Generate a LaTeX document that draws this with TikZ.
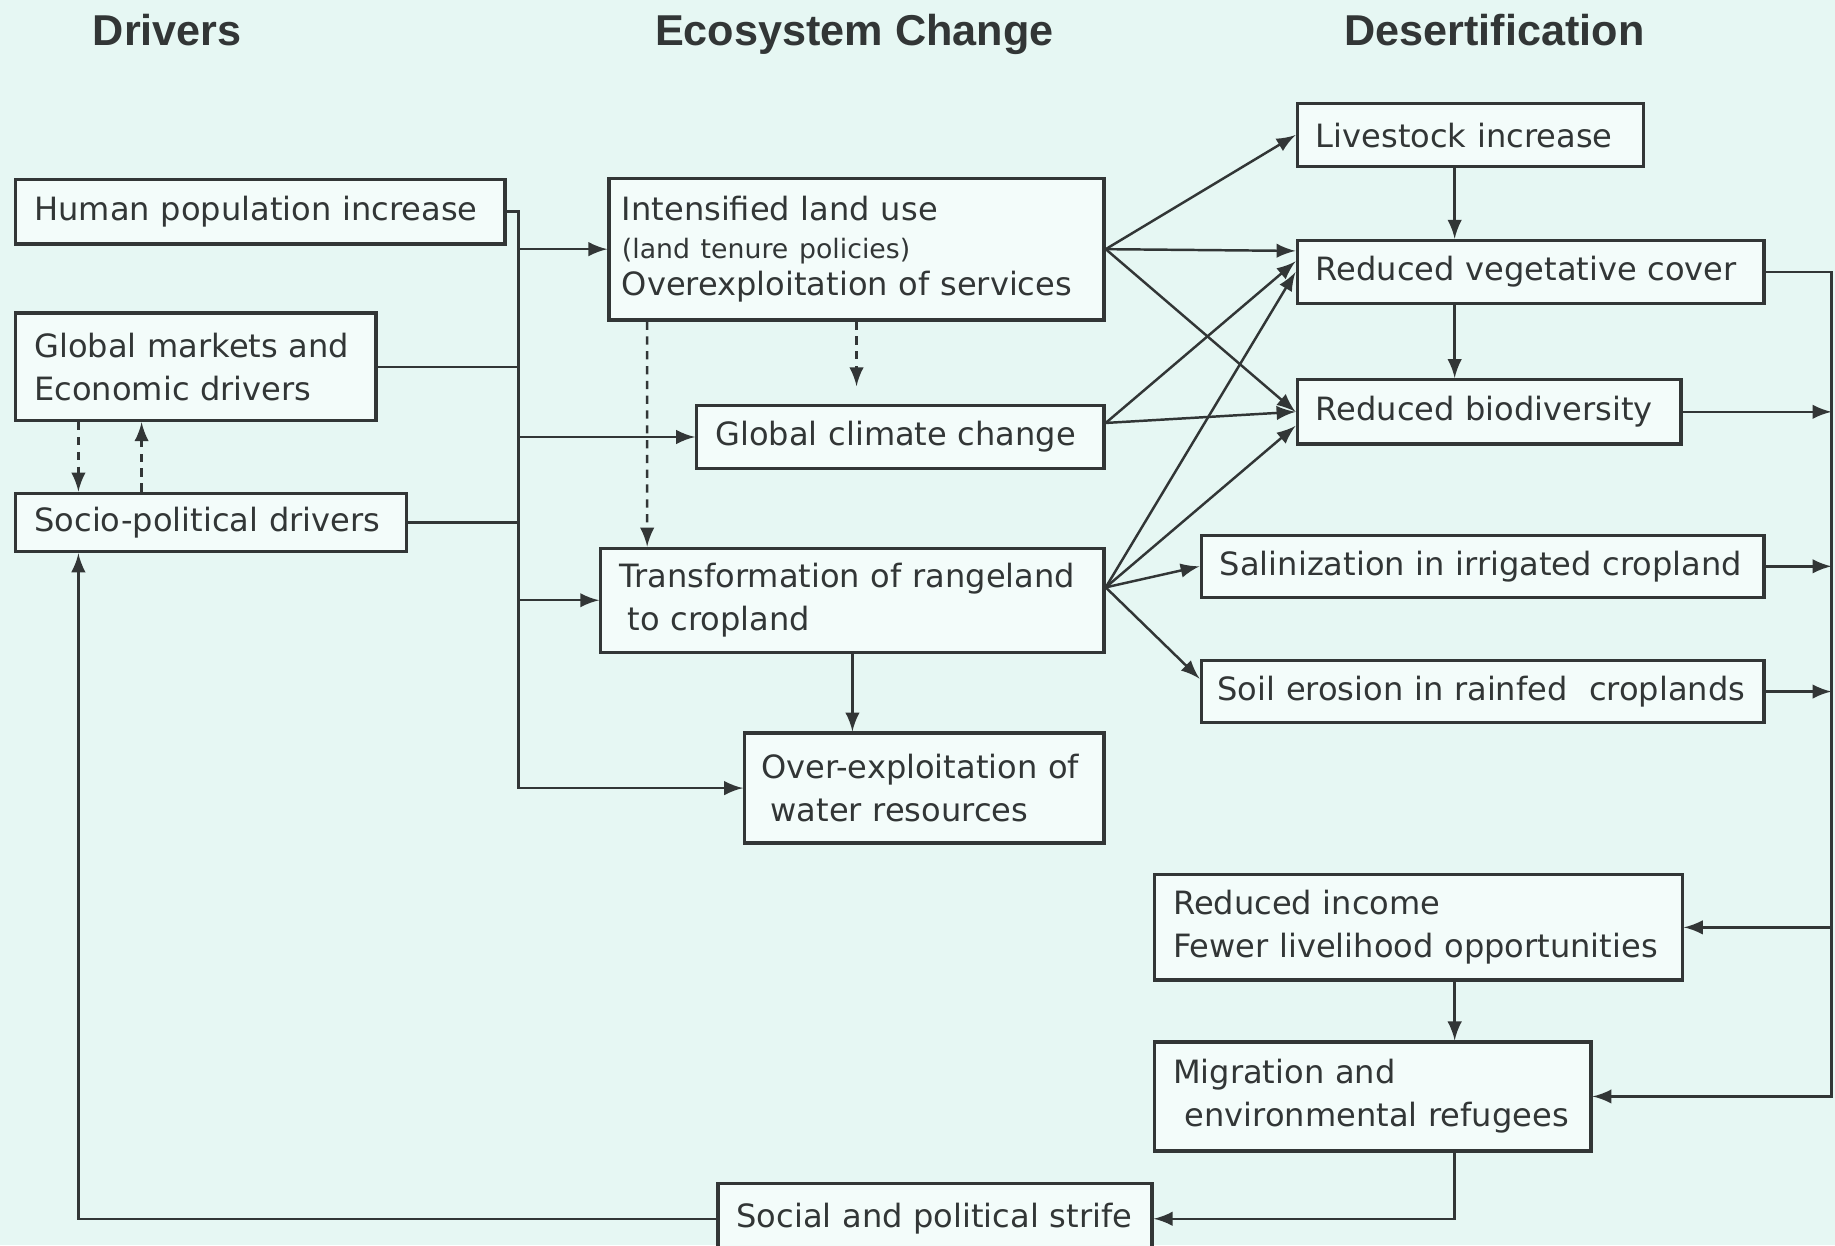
\documentclass[tikz,border=0pt]{standalone}
\usepackage{fontspec}
\setmainfont{DejaVu Sans}
\newfontfamily\headfont{Liberation Sans}
\definecolor{bgcol}{RGB}{230,247,243}
\definecolor{boxfill}{RGB}{243,252,250}
\definecolor{ink}{RGB}{50,54,54}
\begin{document}
\begin{tikzpicture}[>=latex,
  box/.style={draw=ink, fill=boxfill, line width=0.8pt, anchor=north west, inner xsep=1.6mm, inner ysep=1pt, align=left, text=ink, font=\fontsize{7.8}{10.5}\selectfont},
  head/.style={anchor=base, font=\headfont\bfseries\fontsize{10.5}{12}\selectfont, text=ink},
  link/.style={draw=ink, line width=0.6pt},
  dots/.style={link, dash pattern=on 2pt off 1.6pt}]
\useasboundingbox (0,0) rectangle (15.68,10.64);
\fill[bgcol] (0,0) rectangle (15.68,10.64);

% column heads
\node[head] (hdrv) at (1.43,10.25) {Drivers};
\node[head] (heco) at (7.30,10.25) {Ecosystem Change};
\node[head] (hdes) at (12.77,10.25) {Desertification};

% drivers
\node[box, text width=3.86cm, minimum height=0.55cm] (hpop) at (0.12,9.12) {Human population increase};
\node[box, text width=2.76cm, minimum height=0.92cm] (gmkt) at (0.12,7.98) {Global markets and\\Economic drivers};
\node[box, text width=3.02cm, minimum height=0.50cm] (socio) at (0.12,6.44) {Socio-political drivers};

% ecosystem change
\node[box, inner xsep=1.1mm, text width=4.01cm, minimum height=1.21cm] (landuse) at (5.19,9.13) {Intensified land use\\[-1.3pt]{\fontsize{6.5}{7}\selectfont(land tenure policies)}\\[-1.3pt]Overexploitation of services};
\node[box, text width=3.16cm, minimum height=0.54cm] (climate) at (5.94,7.19) {Global climate change};
\node[box, text width=3.98cm, minimum height=0.89cm] (transf) at (5.12,5.97) {Transformation of rangeland\\\hspace*{0.7mm}to cropland};
\node[box, inner xsep=1.4mm, text width=2.79cm, minimum height=0.94cm] (water) at (6.35,4.39) {Over-exploitation of\\\hspace*{0.8mm}water resources};

% desertification
\node[box, text width=2.64cm, minimum height=0.54cm] (livestock) at (11.07,9.77) {Livestock increase};
\node[box, text width=3.67cm, minimum height=0.54cm] (veg) at (11.07,8.60) {Reduced vegetative cover};
\node[box, text width=2.96cm, minimum height=0.55cm] (biodiv) at (11.07,7.41) {Reduced biodiversity};
\node[box, text width=4.49cm, minimum height=0.53cm] (salin) at (10.25,6.08) {Salinization in irrigated cropland};
\node[box, inner xsep=1.4mm, text width=4.53cm, minimum height=0.53cm] (erosion) at (10.25,5.01) {\mbox{Soil erosion in rainfed\ \ croplands}};
\node[box, text width=4.19cm, minimum height=0.90cm] (income) at (9.85,3.18) {Reduced income\\Fewer livelihood opportunities};
\node[box, text width=3.41cm, minimum height=0.93cm] (migr) at (9.85,1.75) {Migration and\\\hspace*{1mm}environmental refugees};
\node[box, text width=3.39cm, minimum height=0.60cm] (strife) at (6.12,0.54) {Social and political strife};

\coordinate (lbus) at (4.43,0);
\coordinate (rbus) at (15.65,0);
\coordinate (spine) at (12.43,0);

% drivers to ecosystem change
\draw[link,->] (hpop.east) -- (hpop.east -| lbus) |- (water.west);
\draw[link] (gmkt.east) -- (gmkt.east -| lbus);
\draw[link] (socio.east) -- (socio.east -| lbus);
\draw[link,->] (landuse.west -| lbus) -- (landuse.west);
\draw[link,->] (climate.west -| lbus) -- (climate.west);
\draw[link,->] (transf.west -| lbus) -- (transf.west);
\draw[dots,->] ([xshift=5.5mm]gmkt.south west) -- ([xshift=5.5mm]socio.north west);
\draw[dots,->] ([xshift=10.9mm]socio.north west) -- ([xshift=10.9mm]gmkt.south west);
\draw[dots,->] ([xshift=3.4mm]landuse.south west) -- ([xshift=4.1mm]transf.north west);
\draw[dots,->] (landuse.south) -- ([yshift=1.5mm]landuse.south |- climate.north);
\draw[link,->] (transf.south) -- (transf.south |- water.north);

% ecosystem change to desertification
\coordinate (cfan) at ([yshift=1.2mm]climate.east);
\coordinate (tfan) at ([yshift=1.1mm]transf.east);
\draw[link,->] (landuse.east) -- (livestock.west);
\draw[link,->] (landuse.east) -- ([yshift=1.8mm]veg.west);
\draw[link,->] (landuse.east) -- (biodiv.west);
\draw[link,->] (cfan) -- ([yshift=0.9mm]veg.west);
\draw[link,->] (cfan) -- (biodiv.west);
\draw[link,->] (tfan) -- (veg.west);
\draw[link,->] (tfan) -- ([yshift=-1.2mm]biodiv.west);
\draw[link,->] (tfan) -- (salin.west);
\draw[link,->] (tfan) -- ([yshift=1.1mm]erosion.west);
\draw[link,->] (spine |- livestock.south) -- (spine |- veg.north);
\draw[link,->] (spine |- veg.south) -- (spine |- biodiv.north);

% consequences
\draw[link,->] (veg.east) -- (veg.east -| rbus) |- (migr.east);
\draw[link,->] (biodiv.east) -- (biodiv.east -| rbus);
\draw[link,->] (salin.east) -- (salin.east -| rbus);
\draw[link,->] (erosion.east) -- (erosion.east -| rbus);
\draw[link,->] (income.east -| rbus) -- (income.east);
\draw[link,->] (spine |- income.south) -- (spine |- migr.north);
\draw[link,->] (spine |- migr.south) |- (strife.east);
\draw[link,->] (strife.west) -| ([xshift=5.5mm]socio.south west);
\end{tikzpicture}
\end{document}
